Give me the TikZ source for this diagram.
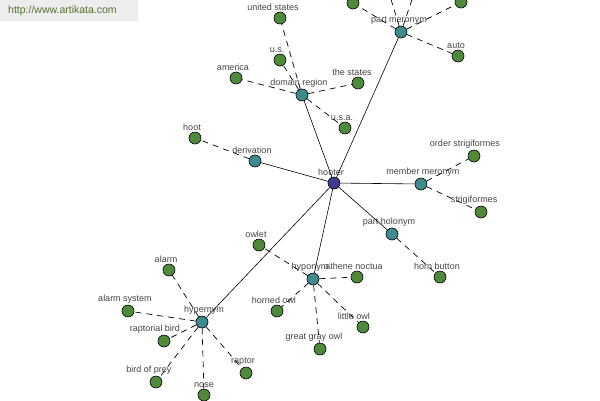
\documentclass[tikz,border=0pt]{standalone}
\usepackage{fontspec}
\setmainfont{Liberation Sans}
\definecolor{hubblue}{HTML}{3C3C8C}
\definecolor{relteal}{HTML}{3E8A8C}
\definecolor{leafgreen}{HTML}{4E8A3A}
\definecolor{lblgray}{HTML}{444444}
\definecolor{siteolive}{HTML}{55702E}
\definecolor{sitebg}{HTML}{EDEDED}
\begin{document}
\begin{tikzpicture}[
    x=1pt, y=-1pt,
    dot/.style={circle, draw=black, line width=0.6pt, minimum size=12pt, inner sep=0pt},
    hub/.style={dot, fill=hubblue},
    rel/.style={dot, fill=relteal},
    leaf/.style={dot, fill=leafgreen},
    lbl/.style={font=\fontsize{9}{10}\selectfont, text=lblgray, inner sep=1pt, xshift=-3pt},
    every label/.style={lbl},
    link/.style={line width=0.6pt},
    dlink/.style={line width=0.7pt, dash pattern=on 6pt off 5pt}
  ]
    \useasboundingbox (0,0) rectangle (600,400);
    \clip (0,0) rectangle (600,400);
    \fill[sitebg] (0,0) rectangle (138,21);
    \node[anchor=west, font=\fontsize{10.5}{12}\selectfont, text=siteolive, inner sep=0pt] (site) at (8,11) {http://www.artikata.com};

    % centre
    \node[hub, label=above:hooter] (hooter) at (334,183) {};

    % relation nodes
    \node[rel, label=above:derivation] (deriv) at (255,161) {};
    \node[rel, label=above:domain region] (domain) at (302,95) {};
    \node[rel, label={[xshift=1pt]above:part meronym}] (partmer) at (401,32) {};
    \node[rel, label={[xshift=5pt]above:member meronym}] (membmer) at (421,184) {};
    \node[rel, label=above:part holonym] (partholo) at (392,234) {};
    \node[rel, label=above:hyponym] (hypo) at (313,279) {};
    \node[rel, label={[xshift=5pt]above:hypernym}] (hyper) at (202,322) {};

    % leaves
    \node[leaf, label=above:hoot] (hoot) at (195,138) {};

    \node[leaf, label={[xshift=-4pt]above:united states}] (unitedst) at (280,18) {};
    \node[leaf, label=above:u.s.] (us) at (280,60) {};
    \node[leaf, label=above:america] (america) at (236,78) {};
    \node[leaf, label={[xshift=-3pt]above:the states}] (thestates) at (358,83) {};
    \node[leaf, label=above:u.s.a.] (usa) at (345,128) {};

    \node[leaf] (pmleft) at (353,3) {};
    \node[leaf] (pmright) at (461,2) {};
    \coordinate (pmupa) at (382,-30);
    \coordinate (pmupb) at (422,-30);
    \node[leaf, label={[xshift=1pt]above:auto}] (auto) at (458,56) {};

    \node[leaf, label={[xshift=-6pt]above:order strigiformes}] (ordstrig) at (474,156) {};
    \node[leaf, label={[xshift=-4pt]above:strigiformes}] (strig) at (481,212) {};

    \node[leaf, label=above:horn button] (hornbtn) at (440,277) {};

    \node[leaf, label=above:owlet] (owlet) at (259,245) {};
    \node[leaf, label=above:athene noctua] (athene) at (357,277) {};
    \node[leaf, label=above:horned owl] (horned) at (277,311) {};
    \node[leaf, label={[xshift=-6pt]above:little owl}] (littleowl) at (363,327) {};
    \node[leaf, label={[xshift=-3pt]above:great gray owl}] (greatgray) at (320,349) {};

    \node[leaf, label=above:alarm] (alarm) at (169,270) {};
    \node[leaf, label=above:alarm system] (alarmsys) at (128,311) {};
    \node[leaf, label={[xshift=-6pt]above:raptorial bird}] (raptorial) at (164,341) {};
    \node[leaf, label={[xshift=-4pt]above:bird of prey}] (birdprey) at (156,382) {};
    \node[leaf, label={[xshift=3pt]above:nose}] (nose) at (204,395) {};
    \node[leaf, label=above:raptor] (raptor) at (246,373) {};

    % solid links from the centre
    \foreach \r in {deriv, domain, partmer, membmer, partholo, hypo, hyper}
      \draw[link] (hooter) -- (\r);

    % dashed links to the leaves
    \draw[dlink] (deriv) -- (hoot);
    \foreach \l in {unitedst, us, america, thestates, usa}
      \draw[dlink] (domain) -- (\l);
    \foreach \l in {pmleft, pmright, pmupa, pmupb, auto}
      \draw[dlink] (partmer) -- (\l);
    \foreach \l in {ordstrig, strig}
      \draw[dlink] (membmer) -- (\l);
    \draw[dlink] (partholo) -- (hornbtn);
    \foreach \l in {owlet, athene, horned, littleowl, greatgray}
      \draw[dlink] (hypo) -- (\l);
    \foreach \l in {alarm, alarmsys, raptorial, birdprey, nose, raptor}
      \draw[dlink] (hyper) -- (\l);
  \end{tikzpicture}
\end{document}
